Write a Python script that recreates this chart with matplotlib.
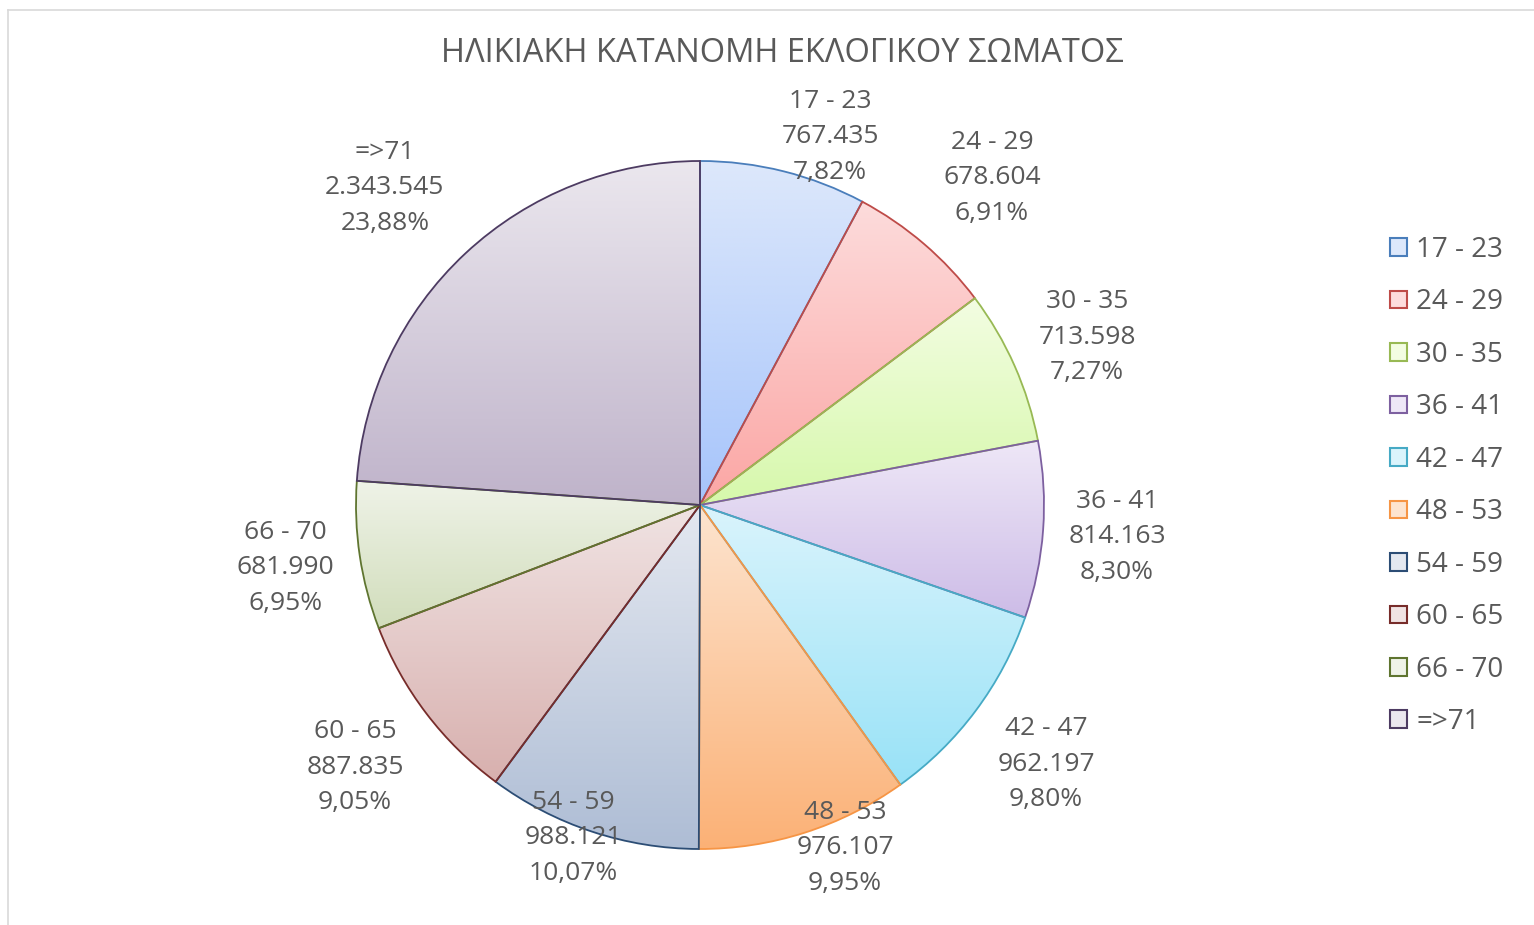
import numpy as np
import matplotlib
matplotlib.use("Agg")
import matplotlib.pyplot as plt
from matplotlib.colors import LinearSegmentedColormap
from matplotlib.patches import Rectangle
from matplotlib.lines import Line2D

plt.rcParams['font.family'] = ['Open Sans', 'DejaVu Sans']

# data
groups = ["17 - 23", "24 - 29", "30 - 35", "36 - 41", "42 - 47",
          "48 - 53", "54 - 59", "60 - 65", "66 - 70", "=>71"]
voters = [767435, 678604, 713598, 814163, 962197,
          976107, 988121, 887835, 681990, 2343545]

# slice styling (light top, dark bottom, edge)
light = ["#dde8fb", "#fddcdc", "#f3fde2", "#eee7f7", "#daf4fc",
         "#fde4cf", "#e4e8f0", "#f0e3e3", "#eff3e8", "#ebe7ee"]
dark = ["#a6c4fb", "#fba6a4", "#d6f8ab", "#cdbce7", "#98e2f7",
        "#fbb176", "#aebdd5", "#d8b0ae", "#d1ddbb", "#bfb3ca"]
edges = ["#4a7ebb", "#be4b48", "#98b954", "#7d60a0", "#46aac5",
         "#f69545", "#2c4d75", "#772c2a", "#5f7530", "#4d3b62"]

# label centres in units of pie radius (Excel "best fit")
label_pos = [(0.378, 1.070), (0.849, 0.951), (1.125, 0.488), (1.212, -0.093),
             (1.006, -0.753), (0.422, -0.997), (-0.369, -0.968),
             (-1.003, -0.762), (-1.206, -0.183), (-0.916, 0.922)]

W, H = 1534, 925
fig = plt.figure(figsize=(W / 100, H / 100), dpi=100)

# outer chart border (light gray, runs off right/bottom)
fig.add_artist(Line2D([8 / W, 8 / W], [0, 1 - 10 / H], color="#d9d9d9", lw=1.2))
fig.add_artist(Line2D([8 / W, 1], [1 - 10 / H, 1 - 10 / H], color="#d9d9d9", lw=1.2))

cx, cy, R = 700, 505, 344
ax = fig.add_axes([(cx - R) / W, (H - cy - R) / H, 2 * R / W, 2 * R / H])

wedges, _ = ax.pie(voters, startangle=90, counterclock=False, radius=1,
                   wedgeprops=dict(linewidth=1.3))

grad = np.linspace(0, 1, 256).reshape(-1, 1)
for w, lc, dc, ec in zip(wedges, light, dark, edges):
    w.set_facecolor("none")
    w.set_edgecolor(ec)
    w.set_zorder(3)
    bb = w.get_path().get_extents()
    cmap = LinearSegmentedColormap.from_list("g", [lc, dc])
    im = ax.imshow(grad, cmap=cmap, extent=(bb.x0, bb.x1, bb.y0, bb.y1),
                   origin="upper", aspect="auto", zorder=2, interpolation="bilinear")
    im.set_clip_path(w)

ax.set_xlim(-1, 1)
ax.set_ylim(-1, 1)
ax.set_aspect("equal")
ax.axis("off")

total = sum(voters)


def fmt_num(v):
    return f"{v:,}".replace(",", ".")


def fmt_pct(v):
    return f"{100 * v / total:.2f}%".replace(".", ",")


for g, v, (lx, ly) in zip(groups, voters, label_pos):
    ax.text(lx, ly, f"{g}\n{fmt_num(v)}\n{fmt_pct(v)}", ha="center", va="center",
            fontsize=19, color="#595959", linespacing=1.55, zorder=5)

fig.text(782 / W, 1 - 53 / H, "ΗΛΙΚΙΑΚΗ ΚΑΤΑΝΟΜΗ ΕΚΛΟΓΙΚΟΥ ΣΩΜΑΤΟΣ",
         ha="center", va="center", fontsize=23.5, color="#595959")

handles = [Rectangle((0, 0), 1, 1, facecolor=lc, edgecolor=ec, linewidth=1.5)
           for lc, ec in zip(light, edges)]
fig.legend(handles, groups, loc="center left", bbox_to_anchor=(1365 / W, 1 - 486 / H),
           frameon=False, fontsize=20, labelcolor="#595959",
           handlelength=0.6, handleheight=0.6, handletextpad=0.35, labelspacing=0.88)

fig.savefig("out.png", dpi=100)
